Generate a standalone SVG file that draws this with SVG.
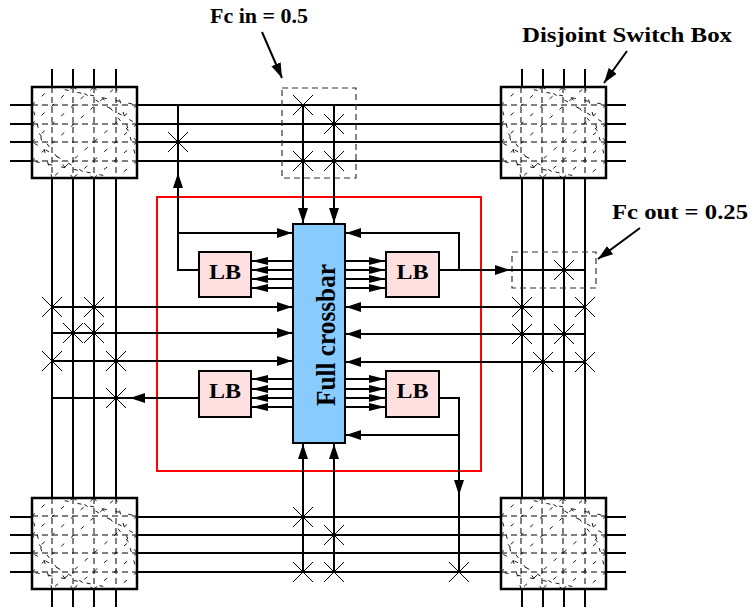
<svg xmlns="http://www.w3.org/2000/svg" xmlns:xlink="http://www.w3.org/1999/xlink" width="755" height="610" viewBox="0 0 755 610">
<style>
.trk{stroke:#000;stroke-width:2;fill:none}
.con{stroke:#000;stroke-width:2;fill:none}
.x{stroke:#000;stroke-width:1;fill:none}
.dash{stroke:#000;stroke-width:1;fill:none;stroke-dasharray:6 4}
.diag{stroke:#000;stroke-width:0.9;fill:none;stroke-dasharray:4 9}
.fc{stroke:#333;stroke-width:1.2;fill:none;stroke-dasharray:6 4}
.lbl{font-family:"Liberation Serif","Times New Roman",serif;font-weight:bold;font-size:20px;fill:#000}
.lb{fill:#ffe0e0;stroke:#000;stroke-width:2}
.lbt{font-family:"Liberation Serif","Times New Roman",serif;font-weight:bold;font-size:20px;fill:#000}
</style>
<defs>
<marker id="ah" markerUnits="userSpaceOnUse" markerWidth="16" markerHeight="11" refX="15" refY="5" orient="auto">
<path d="M0,0L15,5L0,10z" fill="#000"/>
</marker>
<marker id="ahs" markerUnits="userSpaceOnUse" markerWidth="17" markerHeight="9" refX="16" refY="4" orient="auto">
<path d="M0,0L16,4L0,8z" fill="#000"/>
</marker>
<path id="xm" d="M-10,-10L10,10M-10,10L10,-10" class="x"/>
<g id="sbox">
<rect x="0" y="0" width="105" height="91" fill="#fff" stroke="#000" stroke-width="2.5"/>
<path class="dash" d="M0,18H105M0,37H105M0,55H105M0,74H105M20,0V91M41,0V91M62,0V91M84,0V91"/>
<path class="diag" d="M0,18L20,0M0,37L41,0M0,55L62,0M0,74L84,0M20,0L105,18M41,0L105,37M62,0L105,55M84,0L105,74M105,18L20,91M105,37L41,91M105,55L62,91M105,74L84,91M20,91L0,18M41,91L0,37M62,91L0,55M84,91L0,74"/>
</g>
</defs>
<rect width="755" height="610" fill="#fff"/>

<g id="region">
<rect x="157" y="197" width="324" height="274" fill="none" stroke="#f00" stroke-width="2"/>
</g>

<g id="tracks">
<path class="trk" d="M10,105H32M137,105H501M606,105H626M10,124H32M137,124H501M606,124H626M10,142H32M137,142H501M606,142H626M10,161H32M137,161H501M606,161H626"/>
<path class="trk" d="M10,517H32M137,517H501M606,517H626M10,535H32M137,535H501M606,535H626M10,553H32M137,553H501M606,553H626M10,572H32M137,572H501M606,572H626"/>
<path class="trk" d="M52,69V87M52,178V498M52,590V607M73,69V87M73,178V498M73,590V607M94,69V87M94,178V498M94,590V607M116,69V87M116,178V498M116,590V607"/>
<path class="trk" d="M522,69V87M522,178V498M522,590V607M543,69V87M543,178V498M543,590V607M564,69V87M564,178V498M564,590V607M585,69V87M585,178V498M585,590V607"/>
</g>

<g id="sb-tl"><use xlink:href="#sbox" x="32" y="87"/></g>
<g id="sb-tr"><use xlink:href="#sbox" x="501" y="87"/></g>
<g id="sb-bl"><use xlink:href="#sbox" x="32" y="498"/></g>
<g id="sb-br"><use xlink:href="#sbox" x="501" y="498"/></g>

<g id="fcin-box"><rect class="fc" x="282" y="88" width="74" height="90"/></g>
<g id="fcout-box"><rect class="fc" x="512" y="252" width="84" height="36"/></g>

<g id="connectors">
<path class="con" d="M303,105V223" marker-end="url(#ah)"/>
<path class="con" d="M334,105V223" marker-end="url(#ah)"/>
<path class="con" d="M303,572V444" marker-end="url(#ah)"/>
<path class="con" d="M334,572V444" marker-end="url(#ah)"/>

<path class="con" d="M293,261H252" marker-end="url(#ahs)"/>
<path class="con" d="M293,270H252" marker-end="url(#ahs)"/>
<path class="con" d="M293,279H252" marker-end="url(#ahs)"/>
<path class="con" d="M293,288H252" marker-end="url(#ahs)"/>
<path class="con" d="M293,379H252" marker-end="url(#ahs)"/>
<path class="con" d="M293,389H252" marker-end="url(#ahs)"/>
<path class="con" d="M293,398H252" marker-end="url(#ahs)"/>
<path class="con" d="M293,407H252" marker-end="url(#ahs)"/>
<path class="con" d="M345,261H385" marker-end="url(#ahs)"/>
<path class="con" d="M345,270H385" marker-end="url(#ahs)"/>
<path class="con" d="M345,279H385" marker-end="url(#ahs)"/>
<path class="con" d="M345,288H385" marker-end="url(#ahs)"/>
<path class="con" d="M345,379H385" marker-end="url(#ahs)"/>
<path class="con" d="M345,389H385" marker-end="url(#ahs)"/>
<path class="con" d="M345,398H385" marker-end="url(#ahs)"/>
<path class="con" d="M345,407H385" marker-end="url(#ahs)"/>

<path class="con" d="M199,270H178V173" marker-end="url(#ah)"/>
<path class="con" d="M178,175V105"/>
<path class="con" d="M178,233H292" marker-end="url(#ah)"/>
<path class="con" d="M52,307H292" marker-end="url(#ah)"/>
<path class="con" d="M52,333H292" marker-end="url(#ah)"/>
<path class="con" d="M52,361H292" marker-end="url(#ah)"/>
<path class="con" d="M199,398H130" marker-end="url(#ah)"/>
<path class="con" d="M132,398H52"/>

<path class="con" d="M439,270H510" marker-end="url(#ah)"/>
<path class="con" d="M508,270H585"/>
<path class="con" d="M459,270V233H346" marker-end="url(#ah)"/>
<path class="con" d="M585,307H346" marker-end="url(#ah)"/>
<path class="con" d="M585,334H346" marker-end="url(#ah)"/>
<path class="con" d="M585,362H346" marker-end="url(#ah)"/>
<path class="con" d="M439,398H459V495" marker-end="url(#ah)"/>
<path class="con" d="M459,493V572"/>
<path class="con" d="M459,435H346" marker-end="url(#ah)"/>

<path class="con" stroke-width="1.2" d="M262,32L282,78" marker-end="url(#ah)"/>
<path class="con" stroke-width="1.2" d="M627,51L604,83" marker-end="url(#ah)"/>
<path class="con" stroke-width="1.2" d="M640,228L598,259" marker-end="url(#ah)"/>
</g>

<g id="switches">
<use xlink:href="#xm" x="303" y="105"/>
<use xlink:href="#xm" x="334" y="124"/>
<use xlink:href="#xm" x="303" y="161"/>
<use xlink:href="#xm" x="334" y="161"/>
<use xlink:href="#xm" x="178" y="142"/>
<use xlink:href="#xm" x="564" y="270"/>
<use xlink:href="#xm" x="52" y="307"/>
<use xlink:href="#xm" x="94" y="307"/>
<use xlink:href="#xm" x="73" y="333"/>
<use xlink:href="#xm" x="94" y="333"/>
<use xlink:href="#xm" x="52" y="361"/>
<use xlink:href="#xm" x="116" y="361"/>
<use xlink:href="#xm" x="116" y="398"/>
<use xlink:href="#xm" x="522" y="307"/>
<use xlink:href="#xm" x="585" y="307"/>
<use xlink:href="#xm" x="522" y="334"/>
<use xlink:href="#xm" x="564" y="334"/>
<use xlink:href="#xm" x="543" y="362"/>
<use xlink:href="#xm" x="585" y="362"/>
<use xlink:href="#xm" x="303" y="517"/>
<use xlink:href="#xm" x="334" y="535"/>
<use xlink:href="#xm" x="303" y="572"/>
<use xlink:href="#xm" x="334" y="572"/>
<use xlink:href="#xm" x="459" y="572"/>
</g>

<g id="crossbar">
<rect x="293" y="224" width="52" height="219" fill="#88ccff" stroke="#000" stroke-width="2"/>
<text class="lbl" transform="translate(335,335) rotate(-90)" text-anchor="middle" textLength="142" lengthAdjust="spacingAndGlyphs" style="font-size:28px">Full crossbar</text>
</g>

<g id="lb-tl"><rect class="lb" x="199" y="252" width="52" height="45"/><text class="lbt" x="209" y="279" textLength="32" lengthAdjust="spacingAndGlyphs">LB</text></g>
<g id="lb-tr"><rect class="lb" x="386" y="252" width="53" height="45"/><text class="lbt" x="396.5" y="279" textLength="32" lengthAdjust="spacingAndGlyphs">LB</text></g>
<g id="lb-bl"><rect class="lb" x="199" y="371" width="52" height="46"/><text class="lbt" x="209" y="398" textLength="32" lengthAdjust="spacingAndGlyphs">LB</text></g>
<g id="lb-br"><rect class="lb" x="386" y="371" width="53" height="46"/><text class="lbt" x="396.5" y="398" textLength="32" lengthAdjust="spacingAndGlyphs">LB</text></g>

<g id="labels">
<text class="lbl" x="210" y="23" textLength="98" lengthAdjust="spacingAndGlyphs">Fc in = 0.5</text>
<text class="lbl" x="522" y="42" textLength="210" lengthAdjust="spacingAndGlyphs">Disjoint Switch Box</text>
<text class="lbl" x="612" y="219" textLength="136" lengthAdjust="spacingAndGlyphs">Fc out = 0.25</text>
</g>
</svg>
